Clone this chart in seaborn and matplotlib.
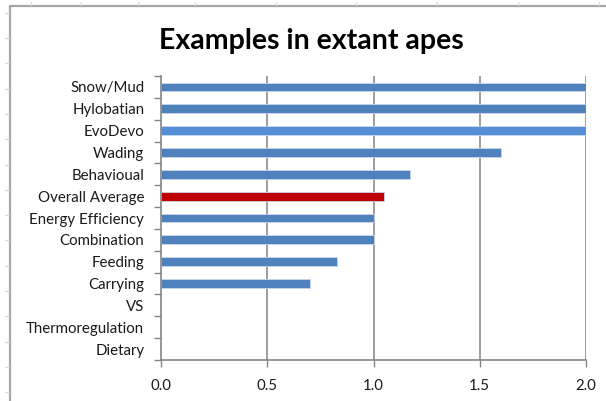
import matplotlib
matplotlib.use("Agg")
import matplotlib.pyplot as plt
from matplotlib.lines import Line2D
import seaborn as sns
import pandas as pd

categories = ["Snow/Mud", "Hylobatian", "EvoDevo", "Wading", "Behavioual",
              "Overall Average", "Energy Efficiency", "Combination", "Feeding",
              "Carrying", "VS", "Thermoregulation", "Dietary"]
values = [2.0, 2.0, 2.0, 1.6, 1.17, 1.05, 1.0, 1.0, 0.83, 0.70, 0.0, 0.0, 0.0]
bar_colors = ["#4F81BD", "#4F81BD", "#558ED5", "#4F81BD", "#4F81BD",
              "#C00000", "#4F81BD", "#4F81BD", "#4F81BD", "#4F81BD",
              "#4F81BD", "#4F81BD", "#4F81BD"]
x_ticks = [0.0, 0.5, 1.0, 1.5, 2.0]
title = "Examples in extant apes"

df = pd.DataFrame({"category": categories, "value": values})

sns.set_theme(style="white")
plt.rcParams["font.family"] = ["Lato", "DejaVu Sans"]

W, H = 606, 401
fig = plt.figure(figsize=(W / 100, H / 100), dpi=100)
fig.patch.set_facecolor("white")

ax = fig.add_axes([161 / W, 1 - 360 / H, (586 - 161) / W, (360 - 76) / H])

sns.barplot(data=df, x="value", y="category", hue="category",
            palette=dict(zip(categories, bar_colors)), legend=False,
            orient="h", width=0.4, edgecolor="#C9D6EA", linewidth=0.6,
            saturation=1, ax=ax)

ax.set_xlim(0, 2.0)
ax.set_ylim(len(categories) - 0.5, -0.5)
ax.set_xticks(x_ticks)
ax.set_xticklabels([f"{t:.1f}" for t in x_ticks], fontsize=10.8, color="#1a1a1a")
ax.set_xlabel("")
ax.set_ylabel("")
ax.tick_params(axis="y", length=0, pad=12, labelsize=10.8, labelcolor="#1a1a1a")
ax.tick_params(axis="x", length=5, width=1, color="#868686", pad=9,
               direction="out", bottom=True)

# category boundary ticks on the value axis side
ax.set_yticks([i - 0.5 for i in range(len(categories) + 1)], minor=True)
ax.tick_params(axis="y", which="minor", length=5, width=1, color="#868686",
               direction="out", left=True)

# vertical gridlines
ax.grid(False)
for t in x_ticks[1:]:
    ax.axvline(t, color="#8C8C8C", lw=1.2, zorder=0)

for side in ["top", "right"]:
    ax.spines[side].set_visible(False)
for side in ["left", "bottom"]:
    ax.spines[side].set_color("#868686")
    ax.spines[side].set_linewidth(1.2)

fig.text(311 / W, 1 - 41 / H, title, ha="center", va="center",
         fontsize=20.5, fontweight="bold", color="black")

# chart area border and sheet gridline stubs
def fig_line(x0, y0, x1, y1, color, lw):
    fig.add_artist(Line2D([x0 / W, x1 / W], [1 - y0 / H, 1 - y1 / H],
                          color=color, lw=lw, transform=fig.transFigure))

fig_line(10, 6, W, 6, "#A6A6A6", 1.6)
fig_line(10, 6, 10, H, "#A6A6A6", 1.6)
for x in [31, 81, 138, 195, 276, 356, 437, 518, 599]:
    fig_line(x, 2, x, 5, "#DADADA", 1.0)
y = 12.7
while y < H:
    fig_line(5, y, 9, y, "#DADADA", 1.0)
    y += 25.3

fig.savefig("out.png", dpi=100, facecolor="white")
